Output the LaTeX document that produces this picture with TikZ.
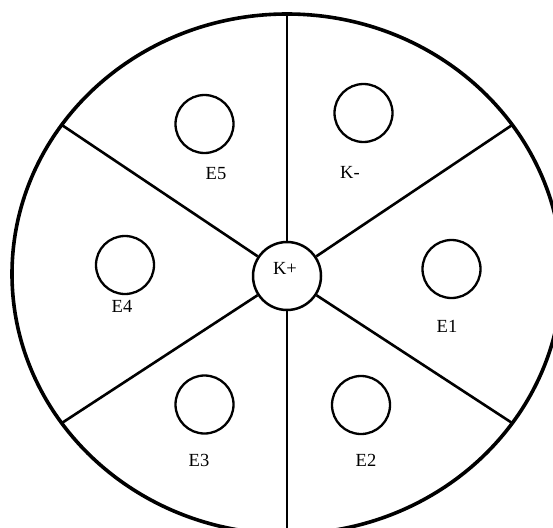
\documentclass[tikz,border=0pt]{standalone}
\usepackage{fontspec}
\setmainfont{Liberation Serif}
\begin{document}
\begin{tikzpicture}[x=1pt,y=-1pt,
  outer/.style={line width=3.6pt},
  spoke/.style={line width=2.6pt},
  cell/.style={circle,draw,line width=2.3pt,minimum size=58pt,inner sep=0pt},
  hub/.style={circle,draw,line width=2.5pt,minimum size=68pt,inner sep=0pt},
  lbl/.style={inner sep=0pt,font=\fontsize{18.5}{18.5}\selectfont}]
\useasboundingbox (0,0) rectangle (553,527);
\fill[white] (0,0) rectangle (553,527);
\clip (0,0) rectangle (553,527);
% outer ring
\coordinate (ctr) at (287,274);
\draw[outer] (ctr) ellipse [x radius=275pt, y radius=260pt];
% hub
\node[hub] (kp) at (287,276) {};
\node[lbl] (kpl) at (285,268) {K+};
% spoke ends on the ring
\coordinate (rt) at (287,14);
\coordinate (rb) at (287,534);
\coordinate (rur) at (512.3,124.9);
\coordinate (rlr) at (512.3,423.1);
\coordinate (rul) at (61.7,124.9);
\coordinate (rll) at (61.7,423.1);
\draw[spoke] (kp) -- (rt);
\draw[spoke] (kp) -- (rb);
\draw[spoke] (kp) -- (rur);
\draw[spoke] (kp) -- (rlr);
\draw[spoke] (kp) -- (rul);
\draw[spoke] (kp) -- (rll);
% electrode circles
\node[cell] (ck) at (363.5,113) {};
\node[cell] (c5) at (204.5,124) {};
\node[cell] (c4) at (125,265) {};
\node[cell] (c1) at (451.5,269) {};
\node[cell] (c3) at (204.5,404.5) {};
\node[cell] (c2) at (361,405) {};
% labels
\node[lbl] (lk) at (350,172) {K-};
\node[lbl] (l5) at (216,174) {E5};
\node[lbl] (l4) at (122,306) {E4};
\node[lbl] (l1) at (447,326) {E1};
\node[lbl] (l3) at (199,460) {E3};
\node[lbl] (l2) at (366,460) {E2};
\end{tikzpicture}
\end{document}
